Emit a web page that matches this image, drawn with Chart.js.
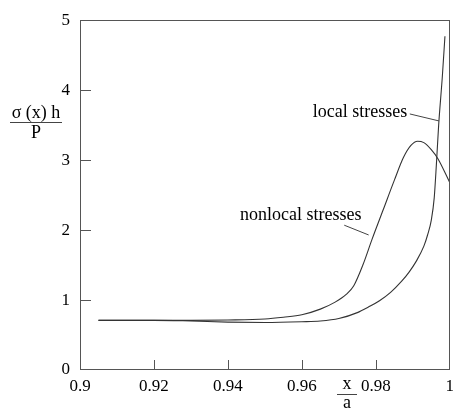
<!DOCTYPE html>
<html>
<head>
<meta charset="utf-8">
<script src="https://cdn.jsdelivr.net/npm/chart.js@4/dist/chart.umd.min.js"></script>
<style>
html,body{margin:0;padding:0;background:#fff;}
#wrap{width:460px;height:412px;position:relative;}
</style>
</head>
<body>
<div id="wrap"><canvas id="c" width="460" height="412"></canvas></div>
<script>
// x/a positions and normalized stress values
const xNonlocal = [0.905, 0.92, 0.93, 0.94, 0.95, 0.955, 0.96, 0.965, 0.969, 0.972, 0.974, 0.9765, 0.979, 0.982, 0.985, 0.9875, 0.9895, 0.9913, 0.993, 0.995, 0.9968, 1.0];
const yNonlocal = [0.71, 0.71, 0.71, 0.715, 0.73, 0.755, 0.79, 0.87, 0.97, 1.08, 1.2, 1.5, 1.87, 2.29, 2.71, 3.04, 3.21, 3.27, 3.25, 3.15, 3.02, 2.68];
const xLocal = [0.905, 0.92, 0.93, 0.94, 0.95, 0.96, 0.965, 0.97, 0.975, 0.978, 0.981, 0.984, 0.987, 0.989, 0.991, 0.993, 0.994, 0.995, 0.9958, 0.9964, 0.997, 0.998, 0.9987];
const yLocal = [0.71, 0.71, 0.70, 0.685, 0.68, 0.69, 0.70, 0.735, 0.82, 0.90, 0.99, 1.11, 1.27, 1.40, 1.56, 1.77, 1.93, 2.14, 2.46, 2.95, 3.5, 4.2, 4.77];
const xTicks = [0.9, 0.92, 0.94, 0.96, 0.98, 1];
const yTicks = [0, 1, 2, 3, 4, 5];
const labelLocal = "local stresses";
const labelNonlocal = "nonlocal stresses";

const pts = (xs, ys) => xs.map((x, i) => ({x: x, y: ys[i]}));
const FONT = '"Liberation Serif", "Times New Roman", serif';
const LINE = '#333';

const decor = {
  id: 'decor',
  afterDraw(chart) {
    const ctx = chart.ctx, a = chart.chartArea;
    const xs = chart.scales.x, ys = chart.scales.y;
    ctx.save();
    // frame
    ctx.strokeStyle = '#555';
    ctx.lineWidth = 1;
    ctx.strokeRect(Math.round(a.left) + 0.5, Math.round(a.top) + 0.5, Math.round(a.right - a.left) - 1, Math.round(a.bottom - a.top) - 1);
    // inward ticks
    ctx.beginPath();
    xTicks.slice(1, -1).forEach(v => {
      const px = Math.round(xs.getPixelForValue(v)) + 0.5;
      ctx.moveTo(px, a.bottom); ctx.lineTo(px, a.bottom - 10);
    });
    yTicks.slice(1, -1).forEach(v => {
      const py = Math.round(ys.getPixelForValue(v)) + 0.5;
      ctx.moveTo(a.left, py); ctx.lineTo(a.left + 11, py);
    });
    ctx.stroke();
    // annotations
    ctx.fillStyle = '#000';
    ctx.font = '18px ' + FONT;
    ctx.textAlign = 'center';
    ctx.textBaseline = 'middle';
    ctx.fillText(labelLocal, xs.getPixelForValue(0.9757), ys.getPixelForValue(3.68));
    ctx.fillText(labelNonlocal, xs.getPixelForValue(0.9597), ys.getPixelForValue(2.21));
    ctx.strokeStyle = '#444';
    ctx.beginPath();
    ctx.moveTo(xs.getPixelForValue(0.9892), ys.getPixelForValue(3.66));
    ctx.lineTo(xs.getPixelForValue(0.9971), ys.getPixelForValue(3.56));
    ctx.moveTo(xs.getPixelForValue(0.97146), ys.getPixelForValue(2.07));
    ctx.lineTo(xs.getPixelForValue(0.97807), ys.getPixelForValue(1.93));
    ctx.stroke();
    // y title: sigma(x) h / P
    ctx.fillText('σ (x) h', 36, 113);
    ctx.fillText('P', 36, 133);
    ctx.beginPath();
    ctx.moveTo(10, 122.5); ctx.lineTo(62, 122.5);
    ctx.stroke();
    // x title: x / a
    ctx.fillText('x', 347, 384);
    ctx.fillText('a', 347, 403);
    ctx.beginPath();
    ctx.moveTo(337, 394.5); ctx.lineTo(357, 394.5);
    ctx.stroke();
    ctx.restore();
  }
};

new Chart(document.getElementById('c'), {
  type: 'line',
  data: {
    datasets: [
      {label: labelNonlocal, data: pts(xNonlocal, yNonlocal), borderColor: LINE, borderWidth: 1.1, pointRadius: 0, fill: false, cubicInterpolationMode: 'monotone'},
      {label: labelLocal, data: pts(xLocal, yLocal), borderColor: LINE, borderWidth: 1.1, pointRadius: 0, fill: false, cubicInterpolationMode: 'monotone'}
    ]
  },
  options: {
    responsive: false,
    animation: false,
    events: [],
    layout: {padding: {top: 12, right: 1, left: 0, bottom: 0}},
    plugins: {legend: {display: false}, tooltip: {enabled: false}},
    scales: {
      x: {
        type: 'linear', min: 0.9, max: 1,
        afterFit(s) { s.height = 42; },
        afterBuildTicks(s) { s.ticks = xTicks.map(v => ({value: v})); },
        grid: {display: false, drawTicks: false},
        border: {display: false},
        ticks: {
          color: '#000', font: {family: FONT, size: 17}, padding: 6, maxRotation: 0, autoSkip: false,
          callback: v => String(v)
        }
      },
      y: {
        type: 'linear', min: 0, max: 5,
        afterFit(s) { s.width = 80; },
        afterBuildTicks(s) { s.ticks = yTicks.map(v => ({value: v})); },
        grid: {display: false, drawTicks: false},
        border: {display: false},
        ticks: {color: '#000', font: {family: FONT, size: 17}, padding: 10, callback: v => String(v)}
      }
    }
  },
  plugins: [decor]
});
</script>
</body>
</html>
